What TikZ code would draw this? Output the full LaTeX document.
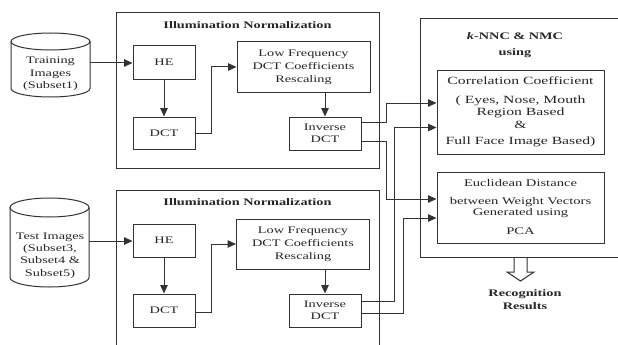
\documentclass[tikz,border=0pt]{standalone}
\usepackage{fontspec}
\setmainfont{Liberation Serif}[FakeStretch=1.43]
\usetikzlibrary{arrows.meta,calc}
\begin{document}
\begin{tikzpicture}[x=1pt,y=-1pt,
  ln/.style={draw=black!80, line width=1pt},
  box/.style={ln, rectangle, inner sep=0pt, align=center, font=\fontsize{10}{13}\selectfont, text=black!85},
  arr/.style={ln, -{Triangle[length=8.5pt,width=7.5pt]}},
  ttl/.style={font=\fontsize{10}{12}\selectfont\bfseries, text=black!85, inner sep=0pt, align=center},
  lbl/.style={font=\fontsize{10}{12.5}\selectfont, text=black!85, inner sep=0pt, align=center}]
\useasboundingbox[fill=white] (0,0) rectangle (618,345);

% frames
\draw[ln] (116,13) rectangle (379,168);
\draw[ln] (116,345) -- (116,190) -- (379,190) -- (379,345);
\draw[ln] (618,19) -- (420,19) -- (420,257) -- (618,257);

% titles
\node[ttl] (t1) at (247.5,25) {Illumination Normalization};
\node[ttl] (t2) at (247.5,202) {Illumination Normalization};
\node[ttl] (t3) at (515,36) {\textit{k}-NNC \& NMC};
\node[ttl] (t4) at (515,53) {using};

% cylinders
\draw[ln] (50.5,41.5) ellipse [x radius=39.5, y radius=8.5];
\draw[ln] (11,41.5) -- (11,88.5) arc[start angle=180, end angle=0, x radius=39.5, y radius=8.5] -- (90,41.5);
\node[lbl] (cyl1) at (50.5,74) {Training\\Images\\(Subset1)};
\coordinate (cyl1e) at (90,63);

\draw[ln] (49.5,207.5) ellipse [x radius=39.5, y radius=9.5];
\draw[ln] (10,207.5) -- (10,277.5) arc[start angle=180, end angle=0, x radius=39.5, y radius=9.5] -- (89,207.5);
\node[lbl, font=\fontsize{10}{12.3}\selectfont] (cyl2) at (50,255.5) {Test Images\\(Subset3,\\Subset4 \&\\Subset5)};
\coordinate (cyl2e) at (89,241);

% upper chain
\node[box, minimum width=62pt, minimum height=33pt] (he1) at (164,62.5) {HE};
\node[box, minimum width=62pt, minimum height=32pt] (dct1) at (164,133) {DCT};
\node[box, minimum width=133pt, minimum height=50pt] (lf1) at (303.5,67) {Low Frequency\\DCT Coefficients\\Rescaling};
\node[box, minimum width=72pt, minimum height=33pt, font=\fontsize{10}{12}\selectfont] (idct1) at (325,133.5) {Inverse\\DCT};

% lower chain
\node[box, minimum width=62pt, minimum height=33pt] (he2) at (164,240.5) {HE};
\node[box, minimum width=62pt, minimum height=33pt] (dct2) at (164,310.5) {DCT};
\node[box, minimum width=133pt, minimum height=50pt] (lf2) at (303,244) {Low Frequency\\DCT Coefficients\\Rescaling};
\node[box, minimum width=72pt, minimum height=33pt, font=\fontsize{10}{12}\selectfont] (idct2) at (325,310.5) {Inverse\\DCT};

% classifier boxes
\node[box, minimum width=167pt, minimum height=84pt, font=\fontsize{11}{12.5}\selectfont] (corr) at (520.5,112)
  {Correlation Coefficient\\[6pt]( Eyes, Nose, Mouth\\Region Based\\\&\\[4pt]Full Face Image Based)};
\node[box, minimum width=167pt, minimum height=71pt, font=\fontsize{10.2}{11}\selectfont] (eucl) at (520.5,207.5)
  {Euclidean Distance\\[7pt]between Weight Vectors\\Generated using\\[8pt]PCA};

% result
\draw[ln] (514,257) -- (514,272) -- (507,272) -- (520.5,281) -- (534,272) -- (527,272) -- (527,257);
\node[ttl, font=\fontsize{10}{13}\selectfont\bfseries] (res) at (525,299.5) {Recognition\\Results};

% connectors upper
\draw[arr] (cyl1e) -- (cyl1e -| he1.west);
\draw[arr] (he1.south) -- (dct1.north);
\draw[arr] (dct1.east) -- ++(16,0) |- (lf1.west);
\draw[arr] (lf1.south -| idct1.north) -- (idct1.north);
% connectors lower
\draw[arr] (cyl2e) -- (cyl2e -| he2.west);
\draw[arr] (he2.south) -- (dct2.north);
\draw[arr] ([yshift=-1.5pt]dct2.east) -- ++(16,0) |- (lf2.west);
\draw[arr] (lf2.south -| idct2.north) -- (idct2.north);

% to classifiers
\draw[arr] ([yshift=11.5pt]idct1.east) -- ++(25,0) |- ([yshift=9pt]corr.west);
\draw[arr] ([yshift=-8pt]idct1.east) -- ++(25,0) |- ([yshift=8.5pt]eucl.west);
\draw[arr] ([yshift=9.5pt]idct2.east) -- ++(33,0) |- ([yshift=-15.5pt]corr.west);
\draw[arr] ([yshift=-2.5pt]idct2.east) -- ++(42,0) |- ([yshift=-10.5pt]eucl.west);
\end{tikzpicture}
\end{document}
